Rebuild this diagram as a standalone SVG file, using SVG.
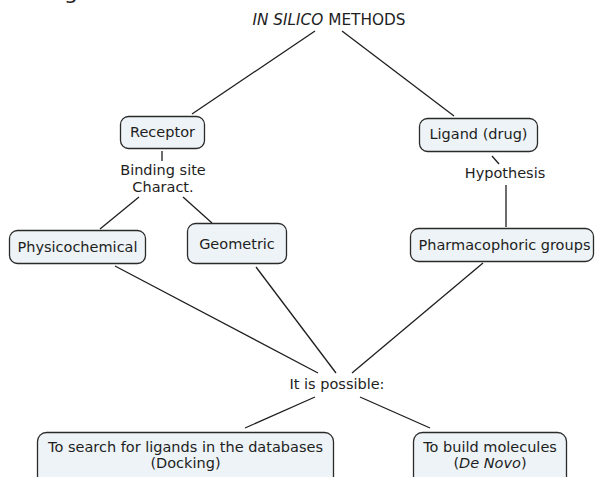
<svg xmlns="http://www.w3.org/2000/svg" width="595" height="477" viewBox="0 0 595 477">
  <style>
    text { font-family: "DejaVu Sans", Verdana, sans-serif; font-size: 14.5px; fill: #1e1e1e; text-anchor: middle; }
    .box { fill: #edf3f6; stroke: #2a2a2a; stroke-width: 1.3; }
    .link { stroke: #1e1e1e; stroke-width: 1.3; fill: none; }
    .it { font-style: italic; }
  </style>
  <rect x="0" y="0" width="595" height="477" fill="#ffffff"/>

  <!-- clipped heading text running off the top edge -->
  <text x="71" y="-1.5" style="font-size:22px">g</text>

  <!-- connectors -->
  <g id="connectors" class="link">
    <line x1="315" y1="31" x2="192" y2="114"/>
    <line x1="342" y1="31" x2="454" y2="116"/>
    <line x1="162" y1="151" x2="162" y2="161"/>
    <line x1="139" y1="197" x2="100" y2="229"/>
    <line x1="183" y1="197" x2="212" y2="223"/>
    <line x1="492" y1="156" x2="499" y2="164"/>
    <line x1="506" y1="185" x2="506" y2="227"/>
    <line x1="115" y1="266" x2="318" y2="373"/>
    <line x1="256" y1="267" x2="336" y2="373"/>
    <line x1="483" y1="263" x2="352" y2="373"/>
    <line x1="315" y1="397" x2="245" y2="428"/>
    <line x1="360" y1="397" x2="430" y2="428"/>
  </g>

  <!-- title -->
  <g id="title">
    <text x="329" y="25" style="font-size:15.3px"><tspan class="it">IN SILICO</tspan> METHODS</text>
  </g>

  <g id="receptor">
    <rect class="box" x="120.5" y="116.5" width="84" height="32" rx="8"/>
    <text x="162.5" y="137">Receptor</text>
  </g>

  <g id="binding-site">
    <text x="163" y="175">Binding site</text>
    <text x="163" y="192">Charact.</text>
  </g>

  <g id="ligand">
    <rect class="box" x="419.5" y="118.5" width="118" height="33" rx="8"/>
    <text x="478.5" y="139">Ligand (drug)</text>
  </g>

  <g id="hypothesis">
    <text x="505" y="178">Hypothesis</text>
  </g>

  <g id="physicochemical">
    <rect class="box" x="9.5" y="230.5" width="136" height="33" rx="8"/>
    <text x="77.5" y="252">Physicochemical</text>
  </g>

  <g id="geometric">
    <rect class="box" x="187.5" y="223.5" width="99" height="40" rx="8"/>
    <text x="237" y="249">Geometric</text>
  </g>

  <g id="pharmacophoric">
    <rect class="box" x="410.5" y="228.5" width="183" height="33" rx="8"/>
    <text x="504.5" y="250">Pharmacophoric groups</text>
  </g>

  <g id="possible">
    <text x="337" y="389">It is possible:</text>
  </g>

  <g id="docking">
    <rect class="box" x="37.5" y="432.5" width="296" height="60" rx="9"/>
    <text x="185.5" y="452">To search for ligands in the databases</text>
    <text x="185.5" y="468">(Docking)</text>
  </g>

  <g id="de-novo">
    <rect class="box" x="413.5" y="432.5" width="153" height="60" rx="9"/>
    <text x="490" y="452">To build molecules</text>
    <text x="490" y="468">(<tspan class="it">De Novo</tspan>)</text>
  </g>
</svg>
